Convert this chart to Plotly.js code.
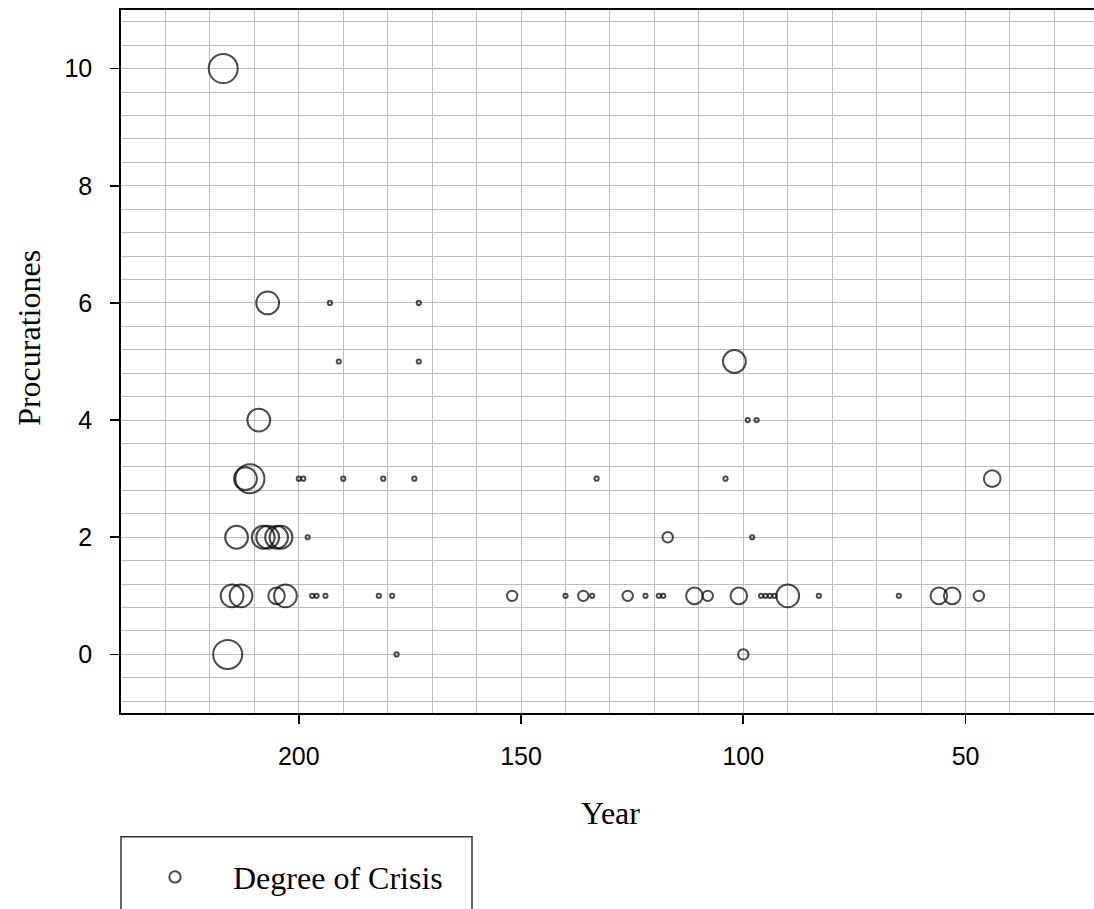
<!DOCTYPE html>
<html>
<head>
<meta charset="utf-8">
<script src="https://cdn.plot.ly/plotly-3.0.1.min.js"></script>
<style>html,body{margin:0;padding:0;background:#fff;}#chart{width:1094px;height:909px;}
.gridlayer path, .minor-gridlayer path {shape-rendering: crispEdges;}</style>
</head>
<body>
<div id="chart"></div>
<script>
// Year (BC), number of procurationes, degree of crisis (bubble size)
const years = [217,
  207, 193, 173,
  191, 173, 102,
  209, 99, 97,
  212, 211, 200, 199, 190, 181, 174, 133, 104, 44,
  214, 208, 207, 205, 204, 198, 117, 98,
  215, 213, 205, 203, 197, 196, 194, 182, 179, 152, 140, 136, 134, 126, 122, 119, 118, 111, 108, 101, 96, 95, 94, 93, 90, 83, 65, 56, 53, 47,
  216, 178, 100];
const procurationes = [10,
  6, 6, 6,
  5, 5, 5,
  4, 4, 4,
  3, 3, 3, 3, 3, 3, 3, 3, 3, 3,
  2, 2, 2, 2, 2, 2, 2, 2,
  1, 1, 1, 1, 1, 1, 1, 1, 1, 1, 1, 1, 1, 1, 1, 1, 1, 1, 1, 1, 1, 1, 1, 1, 1, 1, 1, 1, 1, 1,
  0, 0, 0];
const crisis = [5,
  4, 1, 1,
  1, 1, 4,
  4, 1, 1,
  4, 5, 1, 1, 1, 1, 1, 1, 1, 3,
  4, 4, 4, 4, 4, 1, 2, 1,
  4, 4, 3, 4, 1, 1, 1, 1, 1, 2, 1, 2, 1, 2, 1, 1, 1, 3, 2, 3, 1, 1, 1, 1, 4, 1, 1, 3, 3, 2,
  5, 1, 2];
const xTickVals = [200, 150, 100, 50];
const yTickVals = [0, 2, 4, 6, 8, 10];

const W = 1094, H = 909;
const L = 121, T = 10, B = 909 - 713.3, R = 0;
const pw = W - L - R, ph = H - T - B;
const px2x = p => (p - L) / pw;
const py2y = p => (H - B - p) / ph;

const gridColor = '#bdbdbd';
const sans = 'Liberation Sans, Arial, sans-serif';
const serif = 'Liberation Serif, Times New Roman, serif';

const trace = {
  type: 'scatter',
  mode: 'markers',
  name: 'Degree of Crisis',
  x: years,
  y: procurationes,
  marker: {
    symbol: 'circle',
    size: crisis.map(d => 6.2 * d - 2),
    color: 'rgba(0,0,0,0)',
    line: {color: '#000', width: 2}
  },
  hoverinfo: 'x+y'
};

const layout = {
  width: W, height: H,
  margin: {l: L, r: R, t: T, b: B, pad: 0},
  paper_bgcolor: '#fff', plot_bgcolor: '#fff',
  showlegend: true,
  xaxis: {
    range: [240, 21.1],
    tickmode: 'array', tickvals: xTickVals, ticktext: xTickVals.map(String),
    ticks: 'outside', ticklen: 9, tickwidth: 1.8, tickcolor: '#000',
    ticklabelstandoff: 11,
    tickfont: {family: sans, size: 25, color: '#000'},
    showgrid: true, gridcolor: gridColor, gridwidth: 1,
    minor: {dtick: 10, tick0: 0, showgrid: true, gridcolor: gridColor, gridwidth: 1, ticks: ''},
    showline: true, linecolor: '#000', linewidth: 1.8, mirror: true,
    zeroline: false, fixedrange: true
  },
  yaxis: {
    range: [-1, 11],
    tickmode: 'array', tickvals: yTickVals, ticktext: yTickVals.map(String),
    ticks: 'outside', ticklen: 9, tickwidth: 1.8, tickcolor: '#000',
    ticklabelstandoff: 13,
    tickfont: {family: sans, size: 25, color: '#000'},
    showgrid: true, gridcolor: gridColor, gridwidth: 1,
    minor: {dtick: 0.4, tick0: 0, showgrid: true, gridcolor: gridColor, gridwidth: 1, ticks: ''},
    showline: true, linecolor: '#000', linewidth: 1.8, mirror: false,
    zeroline: false, fixedrange: true
  },
  legend: {
    x: px2x(117), y: py2y(850), xanchor: 'left', yanchor: 'top',
    font: {family: serif, size: 32, color: '#000'},
    bgcolor: 'rgba(0,0,0,0)', borderwidth: 0,
    itemwidth: 106
  },
  shapes: [{
    type: 'rect', xref: 'paper', yref: 'paper',
    x0: 0, x1: px2x(472), y0: py2y(837), y1: py2y(940),
    line: {color: '#333', width: 1.5}, fillcolor: 'rgba(0,0,0,0)', layer: 'above'
  }],
  annotations: [
    {text: 'Year', xref: 'paper', yref: 'paper', x: px2x(610), y: py2y(813),
     xanchor: 'center', yanchor: 'middle', showarrow: false,
     font: {family: serif, size: 32, color: '#000'}},
    {text: 'Procurationes', xref: 'paper', yref: 'paper', x: px2x(29), y: py2y(338),
     xanchor: 'center', yanchor: 'middle', textangle: -90, showarrow: false,
     font: {family: serif, size: 32, color: '#000'}}
  ]
};

Plotly.newPlot('chart', [trace], layout, {staticPlot: true, displayModeBar: false});
</script>
</body>
</html>
